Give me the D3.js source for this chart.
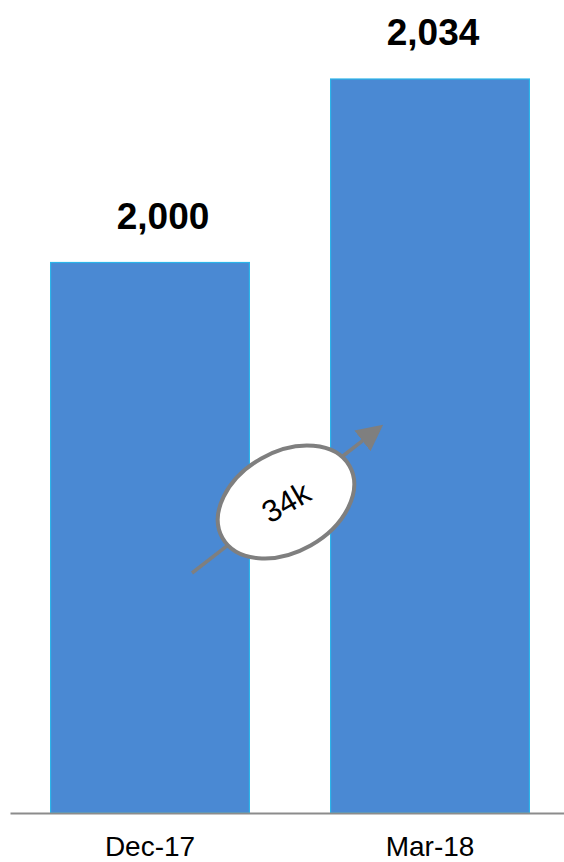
<!DOCTYPE html>
<head>
  <meta charset="utf-8">
  <title>Dec-17 vs Mar-18</title>
  <style>
    body {
      margin: 0;
      background: #fff;
    }
    svg text {
      font-family: "Liberation Sans", Arial, sans-serif;
    }
  </style>
</head>

<body>
  <div id="chart"></div>

  <script src="https://cdn.jsdelivr.net/npm/d3@7"></script>
  <script type="text/javascript">

    // data
    var periods = ["Dec-17", "Mar-18"];
    var values = [2000, 2034];
    var valueLabels = ["2,000", "2,034"];
    var changeLabel = "34k";
    var axisMin = 1898; // bars don't start at zero in the original

    var width = 564,
        height = 862;

    var svg = d3.select("#chart").append("svg")
        .attr("width", width)
        .attr("height", height);

    var x = d3.scaleBand()
        .domain(periods)
        .range([10, 570])
        .paddingInner(0.29)
        .paddingOuter(0.145);

    var y = d3.scaleLinear()
        .domain([axisMin, d3.max(values)])
        .range([813, 79]);

    var rows = periods.map(function (p, i) {
        return { period: p, value: values[i], label: valueLabels[i] };
    });

    ////////////////////////////////////////////////////////////////////////
    // bars
    svg.selectAll("rect.bar")
        .data(rows)
        .enter().append("rect")
        .attr("class", "bar")
        .attr("x", d => x(d.period))
        .attr("y", d => y(d.value))
        .attr("width", x.bandwidth())
        .attr("height", d => y(axisMin) - y(d.value))
        .style("fill", "#4a89d3")
        .style("stroke", "#2bb5ea")
        .style("stroke-width", 1.2);

    // value labels, the first one sits a bit right of centre like the original
    var labelShift = [13, 3];
    svg.selectAll("text.value")
        .data(rows)
        .enter().append("text")
        .attr("class", "value")
        .attr("x", (d, i) => x(d.period) + x.bandwidth() / 2 + labelShift[i])
        .attr("y", d => y(d.value) - 34)
        .attr("text-anchor", "middle")
        .style("font-size", "37px")
        .style("font-weight", "bold")
        .style("fill", "#000")
        .text(d => d.label);

    // x axis
    var xAxis = svg.append("g")
        .attr("transform", "translate(0," + y(axisMin) + ")")
        .call(d3.axisBottom(x).tickSize(0).tickPadding(23));

    xAxis.select(".domain")
        .attr("stroke", "#8c8c8c")
        .attr("stroke-width", 2);

    xAxis.selectAll(".tick text")
        .style("font-size", "28px")
        .style("fill", "#000");

    ////////////////////////////////////////////////////////////////////////
    // change marker: arrow through an ellipse
    var cx = 286, cy = 502;

    svg.append("defs").append("marker")
        .attr("id", "head")
        .attr("viewBox", "0 0 10 10")
        .attr("refX", 8)
        .attr("refY", 5)
        .attr("markerWidth", 7.5)
        .attr("markerHeight", 7.5)
        .attr("markerUnits", "strokeWidth")
        .attr("orient", "auto")
        .append("path")
        .attr("d", "M0,0 L10,5 L0,10 Z")
        .style("fill", "#7f7f7f");

    svg.append("line")
        .attr("x1", 192)
        .attr("y1", 573)
        .attr("x2", 379)
        .attr("y2", 428)
        .style("stroke", "#7f7f7f")
        .style("stroke-width", 3.5)
        .attr("marker-end", "url(#head)");

    svg.append("ellipse")
        .attr("cx", cx)
        .attr("cy", cy)
        .attr("rx", 73)
        .attr("ry", 50)
        .attr("transform", "rotate(-29.5," + cx + "," + cy + ")")
        .style("fill", "#fff")
        .style("stroke", "#7f7f7f")
        .style("stroke-width", 4);

    svg.append("text")
        .attr("x", cx)
        .attr("y", cy + 11)
        .attr("text-anchor", "middle")
        .attr("transform", "rotate(-30," + cx + "," + cy + ")")
        .style("font-size", "31px")
        .style("fill", "#000")
        .text(changeLabel);

  </script>

</body>
